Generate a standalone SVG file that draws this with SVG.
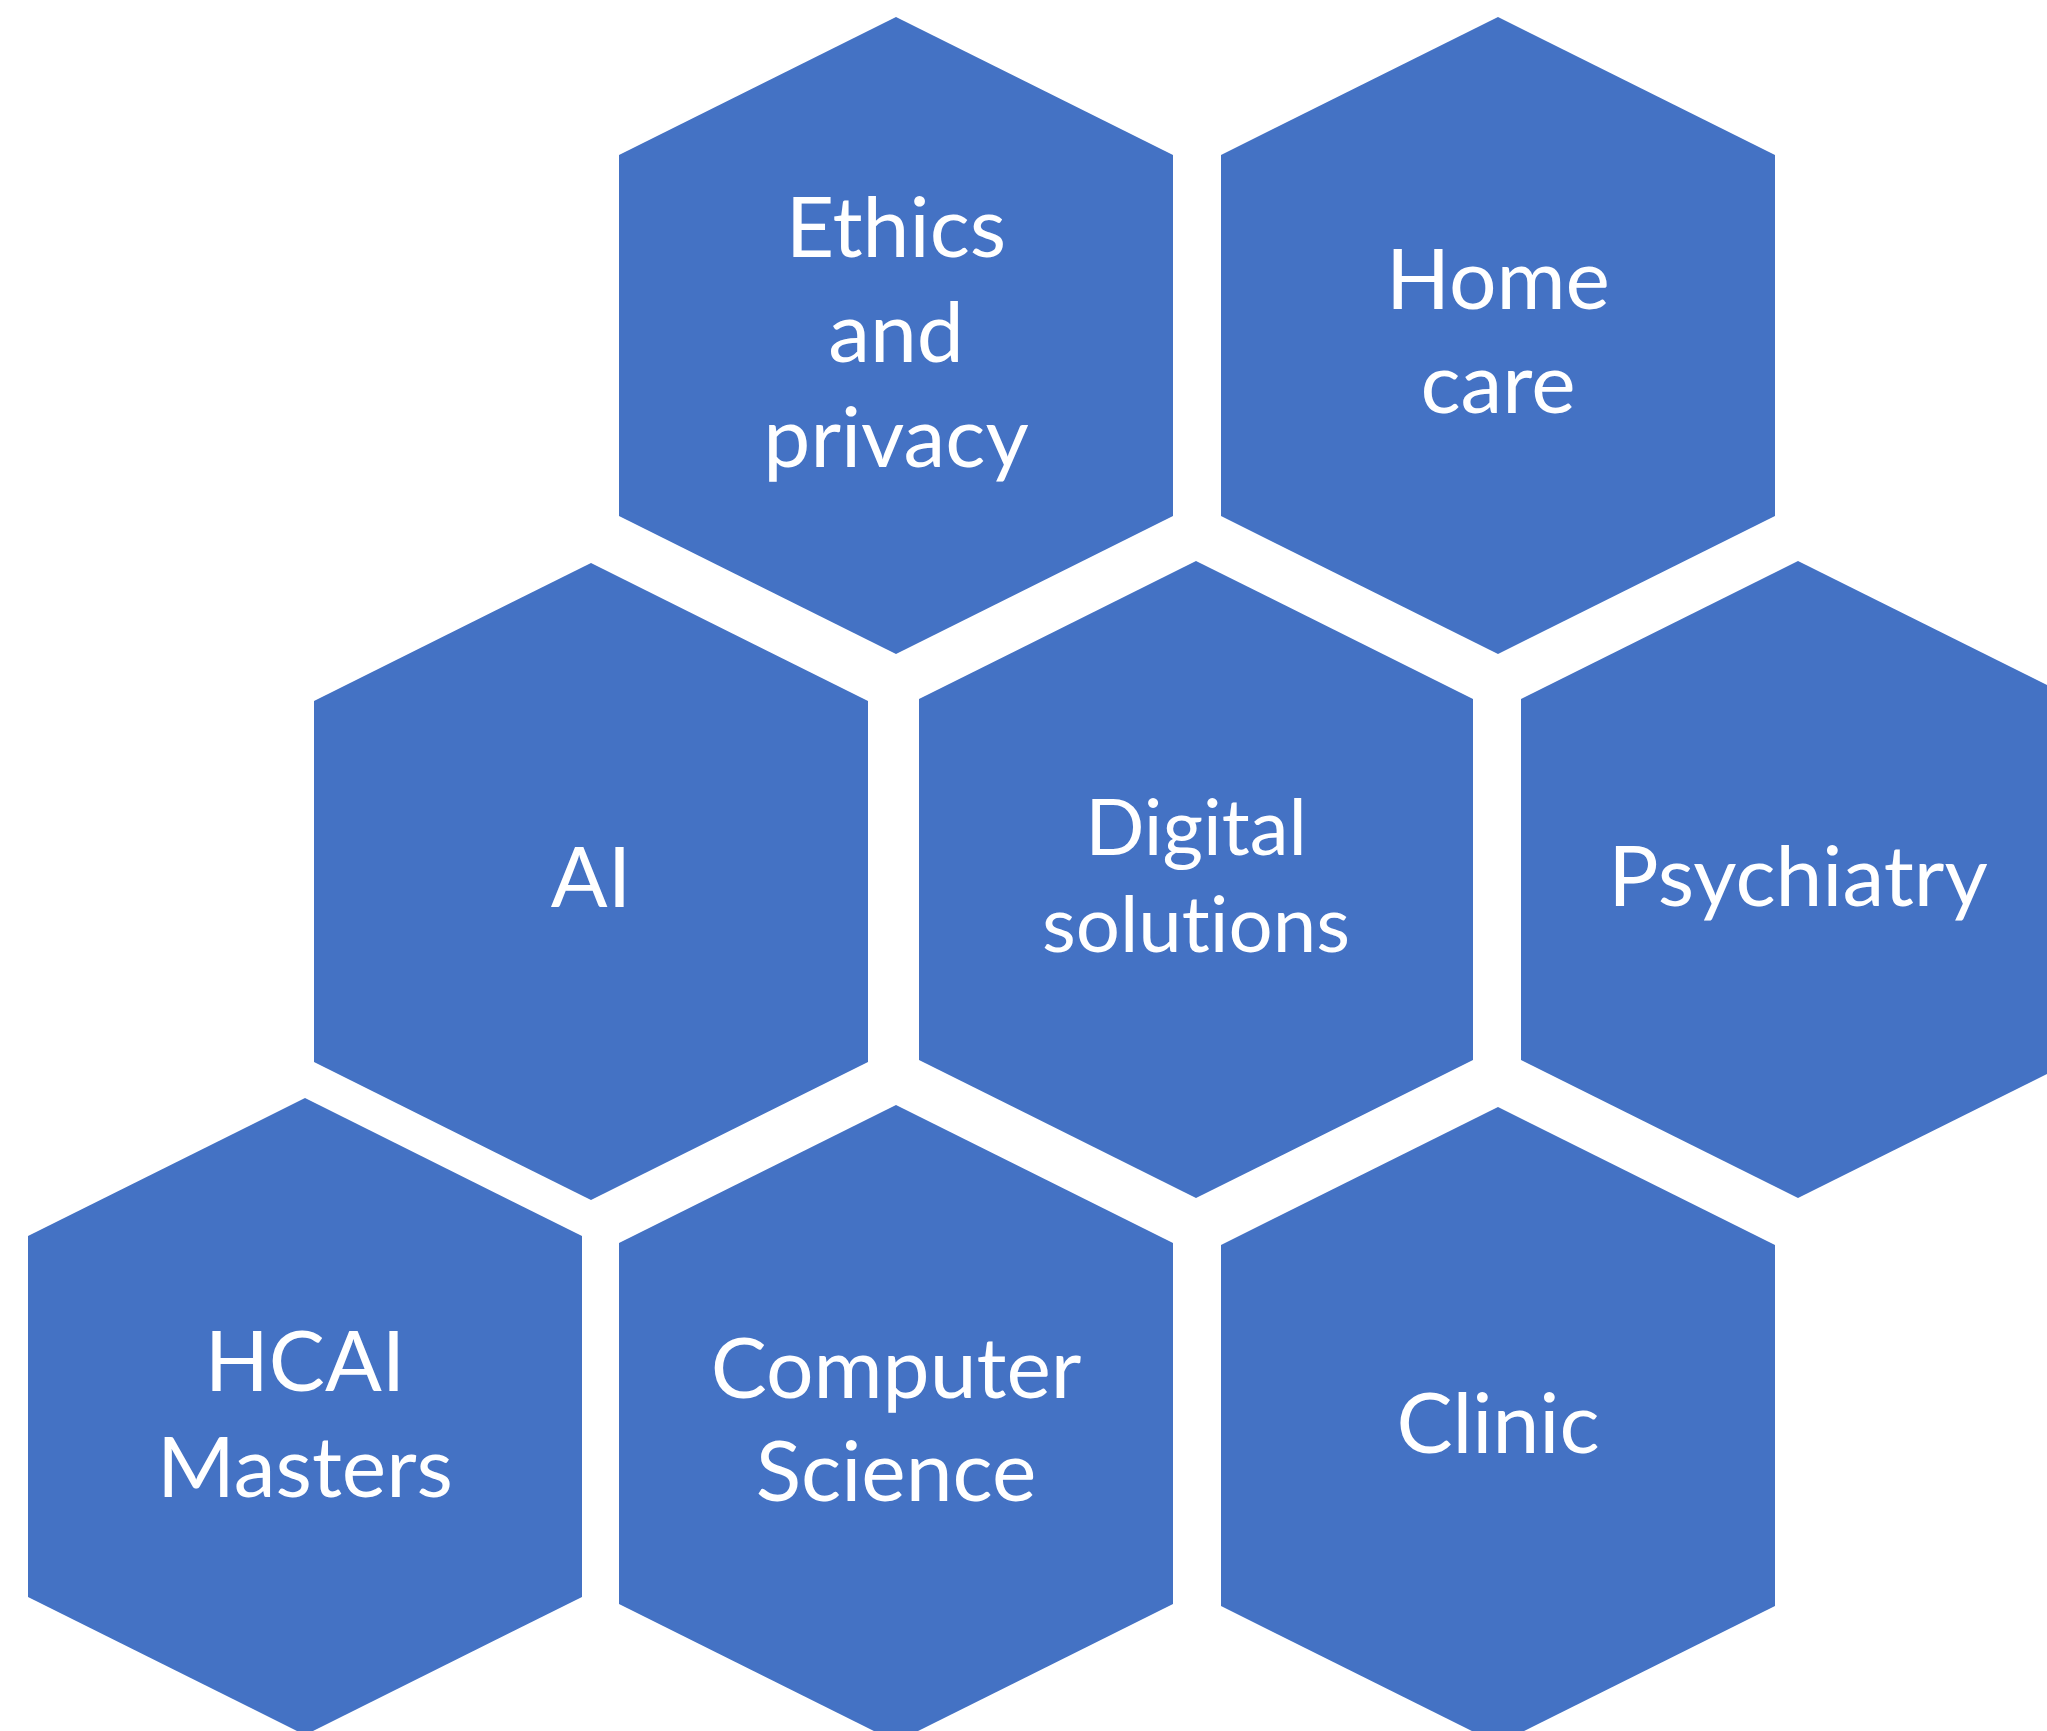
<svg xmlns="http://www.w3.org/2000/svg" xmlns:xlink="http://www.w3.org/1999/xlink" width="2047" height="1731" viewBox="0 0 2047 1731">
  <style>
    .hex { fill: #4472C4; }
    .lbl { fill: #FFFFFF; font-family: Lato, "Open Sans", "Liberation Sans", sans-serif; font-size: 84px; text-anchor: middle; font-variant-ligatures: none; font-feature-settings: "liga" 0, "clig" 0, "dlig" 0; }
    .sm { font-size: 78px; }
  </style>
  <defs>
    <polygon id="hexshape" points="0,0 277,138 277,499 0,637 -277,499 -277,138"/>
  </defs>
  <rect width="2047" height="1731" fill="#FFFFFF"/>
  <g id="node-ethics">
    <use xlink:href="#hexshape" href="#hexshape" class="hex" x="896" y="17"/>
    <text class="lbl" x="896" y="257">Ethics</text>
    <text class="lbl" x="896" y="362">and</text>
    <text class="lbl" x="896" y="467">privacy</text>
  </g>
  <g id="node-homecare">
    <use xlink:href="#hexshape" href="#hexshape" class="hex" x="1498" y="17"/>
    <text class="lbl" x="1498" y="309">Home</text>
    <text class="lbl" x="1498" y="413">care</text>
  </g>
  <g id="node-ai">
    <use xlink:href="#hexshape" href="#hexshape" class="hex" x="591" y="563"/>
    <text class="lbl" x="591" y="907">AI</text>
  </g>
  <g id="node-digital">
    <use xlink:href="#hexshape" href="#hexshape" class="hex" x="1196" y="561"/>
    <text class="lbl sm" x="1196" y="855">Digital</text>
    <text class="lbl sm" x="1196" y="952">solutions</text>
  </g>
  <g id="node-psychiatry">
    <use xlink:href="#hexshape" href="#hexshape" class="hex" x="1798" y="561"/>
    <text class="lbl" x="1798" y="906">Psychiatry</text>
  </g>
  <g id="node-hcai">
    <use xlink:href="#hexshape" href="#hexshape" class="hex" x="305" y="1098"/>
    <text class="lbl" x="305" y="1391">HCAI</text>
    <text class="lbl" x="305" y="1497">Masters</text>
  </g>
  <g id="node-cs">
    <use xlink:href="#hexshape" href="#hexshape" class="hex" x="896" y="1105"/>
    <text class="lbl" x="896" y="1398">Computer</text>
    <text class="lbl" x="896" y="1501">Science</text>
  </g>
  <g id="node-clinic">
    <use xlink:href="#hexshape" href="#hexshape" class="hex" x="1498" y="1107"/>
    <text class="lbl" x="1498" y="1453">Clinic</text>
  </g>
  <g id="connectors"/>
</svg>
